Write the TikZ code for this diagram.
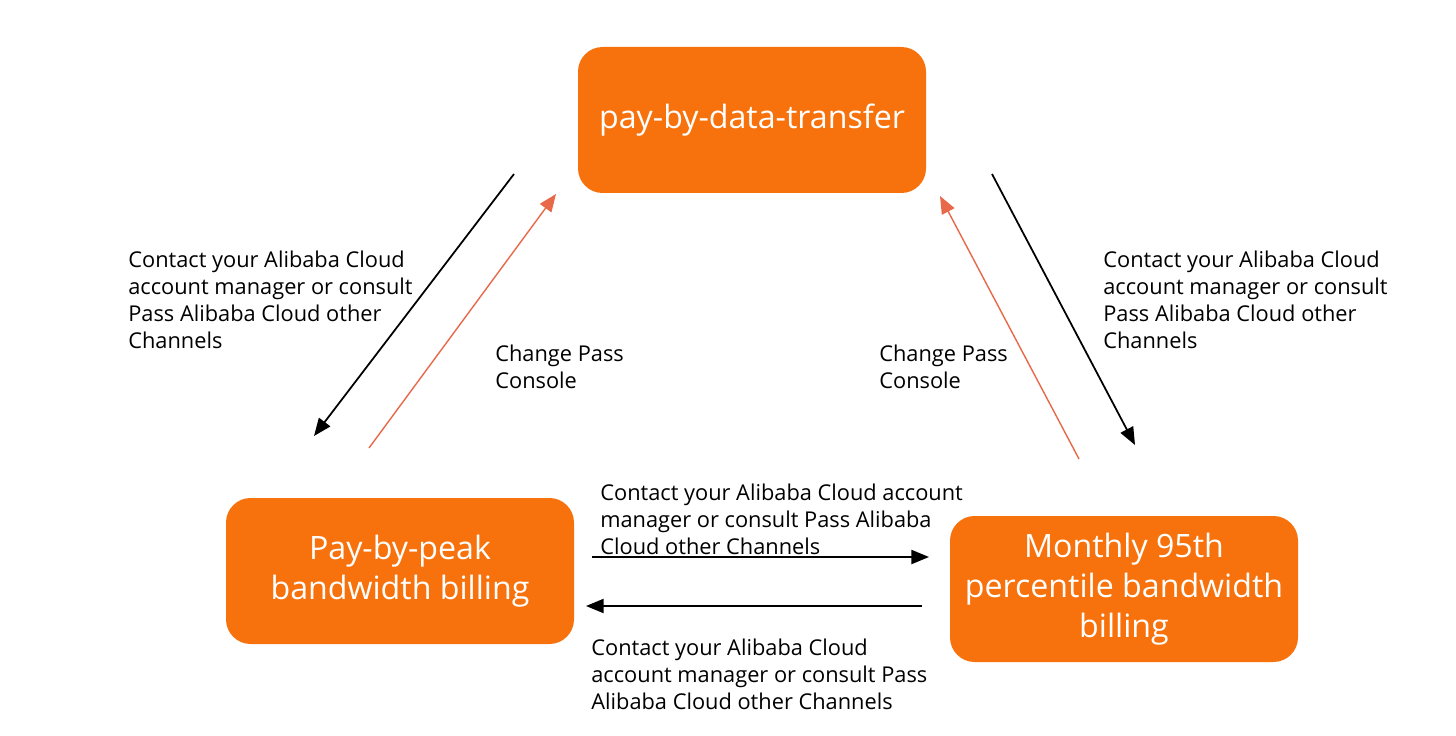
\documentclass[tikz,border=0pt]{standalone}
\usepackage{fontspec}
\setmainfont{Open Sans}
\usetikzlibrary{arrows.meta}

\definecolor{boxorange}{HTML}{F7720C}
\definecolor{arrowred}{HTML}{E8694A}

\tikzset{
  billbox/.style={rectangle, rounded corners=14pt, fill=boxorange, text=white,
    minimum width=348*0.02cm, minimum height=146*0.02cm, align=center,
    font=\fontsize{18.3}{22.7}\selectfont},
  note/.style={anchor=west, align=left, inner sep=0pt,
    font=\fontsize{12.4}{15.3}\selectfont},
  contact/.style={-{Triangle[length=10pt,width=8pt]}, line width=1pt, black},
  change/.style={-{Triangle[length=10pt,width=8pt]}, line width=0.8pt, arrowred}
}

\begin{document}
\begin{tikzpicture}[x=0.02cm,y=-0.02cm]
            \useasboundingbox (0,0) rectangle (1456,736);
            % billing boxes
            \node[billbox] (transfer) at (752,120) {pay-by-data-transfer};
            \node[billbox] (peak) at (400,571) {Pay-by-peak\\bandwidth billing};
            \node[billbox] (p95) at (1124,589) {Monthly 95th\\percentile bandwidth\\billing};
            % arrow ends
            \coordinate (tl1) at (514,174);
            \coordinate (pk1) at (314,436);
            \coordinate (pk2) at (369,448);
            \coordinate (tl2) at (556,194);
            \coordinate (tr1) at (992,174);
            \coordinate (pr1) at (1135,445);
            \coordinate (pr2) at (1079,459);
            \coordinate (tr2) at (940,196);
            \coordinate (hr1) at (592,557);
            \coordinate (hr2) at (929,557);
            \coordinate (hl1) at (922,606);
            \coordinate (hl2) at (586,606);
            \draw[contact] (tl1) -- (pk1);
            \draw[change] (pk2) -- (tl2);
            \draw[contact] (tr1) -- (pr1);
            \draw[change] (pr2) -- (tr2);
            \draw[contact] (hr1) -- (hr2);
            \draw[contact] (hl1) -- (hl2);
            % labels
            \node[note] (lleft) at (128,300) {Contact your Alibaba Cloud\\account manager or consult\\Pass Alibaba Cloud other\\Channels};
            \node[note] (cleft) at (495,367) {Change Pass\\Console};
            \node[note] (cright) at (879,367) {Change Pass\\Console};
            \node[note] (lright) at (1103,300) {Contact your Alibaba Cloud\\account manager or consult\\Pass Alibaba Cloud other\\Channels};
            \node[note] (ltop) at (600,519) {Contact your Alibaba Cloud account\\manager or consult Pass Alibaba\\Cloud other Channels};
            \node[note] (lbot) at (591,674) {Contact your Alibaba Cloud\\account manager or consult Pass\\Alibaba Cloud other Channels};
        \end{tikzpicture}
\end{document}
